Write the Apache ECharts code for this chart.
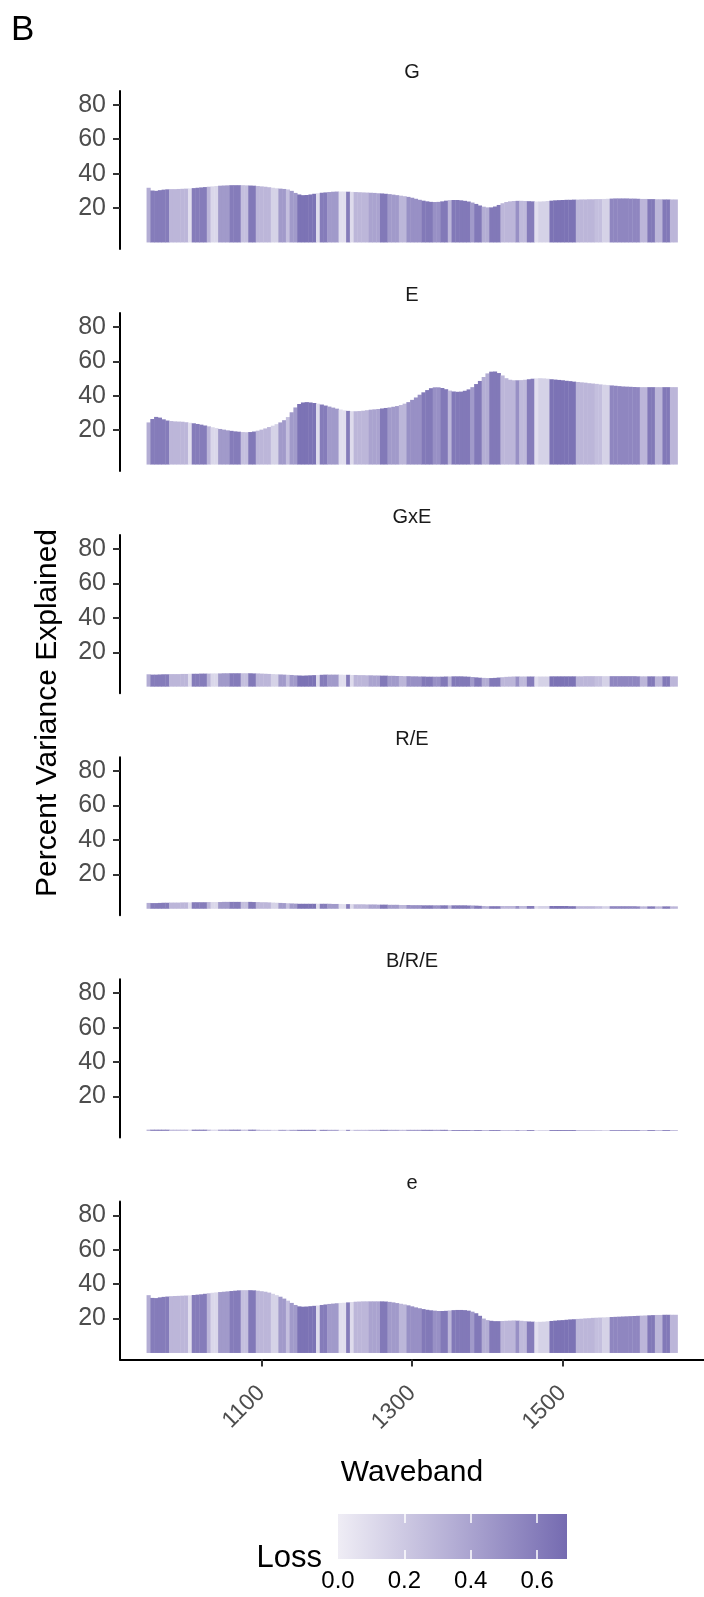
<!DOCTYPE html>
<html>
<head>
<meta charset="utf-8">
<script src="https://cdn.jsdelivr.net/npm/echarts@6/dist/echarts.min.js"></script>
<style>
  html, body { margin: 0; padding: 0; background: #fff; }
  #chart { width: 704px; height: 1597px; }
</style>
</head>
<body>
<div id="chart"></div>
<script>
// waveband grid, 5 nm steps
const waveband = []
for (let w = 950; w <= 1650; w += 5) waveband.push(w)

const facets = ['G', 'E', 'GxE', 'R/E', 'B/R/E', 'e']
const yTicks = [20, 40, 60, 80]
const xTicks = [1100, 1300, 1500]
const lossTicks = [0, 0.2, 0.4, 0.6]

// loss for each waveband (fill colour)
const loss = [
  0.35, 0.6, 0.6, 0.6, 0.6, 0.6, 0.3, 0.3, 0.3, 0.3,
  0.3, 0.08, 0.6, 0.6, 0.6, 0.6, 0.3, 0.12, 0.12, 0.45,
  0.45, 0.45, 0.6, 0.6, 0.6, 0.25, 0.25, 0.62, 0.62, 0.3,
  0.3, 0.3, 0.3, 0.15, 0.15, 0.45, 0.45, 0.25, 0.45, 0.45,
  0.65, 0.65, 0.65, 0.65, 0.65, 0.1, 0.6, 0.6, 0.45, 0.45,
  0.45, 0.08, 0.08, 0.6, 0.1, 0.3, 0.3, 0.3, 0.3, 0.4,
  0.4, 0.4, 0.62, 0.62, 0.45, 0.45, 0.45, 0.3, 0.3, 0.5,
  0.5, 0.5, 0.5, 0.62, 0.62, 0.62, 0.5, 0.5, 0.62, 0.62,
  0.3, 0.62, 0.62, 0.62, 0.62, 0.62, 0.45, 0.62, 0.62, 0.35,
  0.35, 0.62, 0.62, 0.62, 0.3, 0.3, 0.3, 0.3, 0.5, 0.28,
  0.28, 0.6, 0.6, 0.08, 0.15, 0.15, 0.15, 0.65, 0.65, 0.65,
  0.65, 0.65, 0.65, 0.65, 0.3, 0.3, 0.3, 0.3, 0.3, 0.25,
  0.25, 0.15, 0.15, 0.55, 0.55, 0.55, 0.55, 0.55, 0.55, 0.55,
  0.55, 0.3, 0.3, 0.62, 0.62, 0.3, 0.3, 0.62, 0.62, 0.3,
  0.3
]

// percent variance explained, per facet
const gVar = [
  31.8, 30.2, 30, 30.4, 30.7, 30.9, 31, 31, 31.1, 31.2,
  31.3, 31.4, 31.6, 31.8, 32, 32.2, 32.4, 32.6, 32.8, 33,
  33.1, 33.2, 33.3, 33.3, 33.3, 33.3, 33.2, 33.1, 33, 32.8,
  32.6, 32.4, 32.1, 31.8, 31.5, 31.3, 31.1, 30.8, 30, 28.8,
  27.9, 27.5, 27.6, 27.9, 28.3, 28.6, 28.9, 29.1, 29.3, 29.5,
  29.6, 29.6, 29.6, 29.5, 29.4, 29.3, 29.2, 29.1, 29, 28.9,
  28.8, 28.6, 28.5, 28.3, 28.1, 27.8, 27.5, 27.2, 26.9, 26.5,
  26, 25.4, 24.8, 24.3, 23.9, 23.6, 23.5, 23.6, 23.9, 24.3,
  24.6, 24.7, 24.7, 24.5, 24.2, 23.8, 23.2, 22.4, 21.5, 20.8,
  20.4, 20.4, 20.9, 21.8, 22.8, 23.5, 23.9, 24.1, 24.2, 24.2,
  24.1, 24, 23.9, 23.8, 23.8, 23.9, 24.1, 24.3, 24.5, 24.6,
  24.7, 24.8, 24.8, 24.9, 24.9, 25, 25, 25.1, 25.1, 25.2,
  25.2, 25.3, 25.4, 25.5, 25.6, 25.6, 25.6, 25.6, 25.5, 25.5,
  25.4, 25.3, 25.3, 25.2, 25.2, 25.1, 25.1, 25, 25, 25,
  25
]
const eVar = [
  24.5, 26.5, 27.7, 27.3, 26.3, 25.6, 25.3, 25.1, 25, 24.9,
  24.6, 24.3, 24, 23.6, 23.2, 22.7, 22.2, 21.7, 21.2, 20.7,
  20.3, 19.9, 19.6, 19.3, 19.1, 18.9, 18.8, 18.9, 19.2, 19.7,
  20.3, 21, 21.8, 22.6, 23.5, 24.5, 25.8, 27.6, 30.4, 33.2,
  35.2, 36.1, 36.3, 36.1, 35.8, 35.4, 34.9, 34.3, 33.7, 33.1,
  32.5, 32, 31.5, 31.2, 31, 31, 31.1, 31.3, 31.6, 31.9,
  32.1, 32.3, 32.6, 32.9, 33.2, 33.6, 34, 34.6, 35.4, 36.3,
  37.6, 39, 40.6, 42, 43.3, 44.4, 44.9, 44.9, 44.5, 43.8,
  43, 42.5, 42.3, 42.4, 42.9, 43.7, 45, 46.8, 48.6, 50.9,
  53, 54, 54.1, 53.2, 51.8, 50.2, 49.3, 49, 49, 49.1,
  49.3, 49.6, 49.9, 50.1, 50.2, 50.1, 49.9, 49.6, 49.4, 49.2,
  49, 48.7, 48.5, 48.2, 48, 47.8, 47.6, 47.3, 47.1, 46.9,
  46.6, 46.4, 46.2, 46, 45.8, 45.6, 45.4, 45.3, 45.2, 45.1,
  45, 45, 45, 45, 45, 45, 45, 45, 45, 45,
  45
]
const gxeVar = [
  7.2, 7, 7, 7.1, 7.2, 7.2, 7.3, 7.3, 7.3, 7.4,
  7.4, 7.5, 7.5, 7.5, 7.6, 7.6, 7.6, 7.7, 7.7, 7.7,
  7.8, 7.8, 7.8, 7.8, 7.8, 7.8, 7.8, 7.8, 7.7, 7.7,
  7.6, 7.5, 7.4, 7.3, 7.2, 7.1, 7, 6.9, 6.8, 6.6,
  6.5, 6.4, 6.5, 6.6, 6.7, 6.8, 6.9, 7, 7, 7,
  7, 7, 6.9, 6.9, 6.8, 6.8, 6.7, 6.7, 6.6, 6.6,
  6.5, 6.5, 6.4, 6.4, 6.3, 6.3, 6.2, 6.2, 6.1, 6.1,
  6, 6, 5.9, 5.9, 5.8, 5.8, 5.8, 5.8, 5.8, 5.9,
  5.9, 6, 6, 6, 5.9, 5.8, 5.6, 5.4, 5.2, 5.1,
  5, 5, 5.1, 5.3, 5.5, 5.7, 5.8, 5.9, 5.9, 5.9,
  5.9, 5.9, 5.9, 5.9, 5.9, 5.9, 5.9, 6, 6, 6,
  6, 6, 6, 6, 6, 6, 6.1, 6.1, 6.1, 6.1,
  6.1, 6.1, 6.1, 6.1, 6.1, 6.1, 6.1, 6.1, 6.1, 6.1,
  6, 6, 6, 6, 6, 6, 6, 6, 6, 6,
  6
]
const reVar = [
  3.4, 3.3, 3.3, 3.4, 3.5, 3.5, 3.6, 3.6, 3.6, 3.7,
  3.7, 3.7, 3.8, 3.8, 3.8, 3.8, 3.9, 3.9, 3.9, 3.9,
  4, 4, 4, 4, 4, 4, 4, 4, 3.9, 3.9,
  3.8, 3.8, 3.7, 3.6, 3.5, 3.4, 3.3, 3.2, 3.1, 3,
  2.9, 2.9, 2.9, 2.9, 2.9, 2.9, 2.9, 2.9, 2.9, 2.8,
  2.8, 2.8, 2.7, 2.7, 2.7, 2.6, 2.6, 2.6, 2.5, 2.5,
  2.5, 2.4, 2.4, 2.4, 2.3, 2.3, 2.3, 2.2, 2.2, 2.2,
  2.1, 2.1, 2.1, 2, 2, 2, 2, 2, 2, 2,
  2, 2, 2, 2, 2, 1.9, 1.9, 1.8, 1.7, 1.6,
  1.5, 1.5, 1.5, 1.5, 1.6, 1.6, 1.6, 1.6, 1.6, 1.6,
  1.6, 1.6, 1.6, 1.6, 1.6, 1.6, 1.6, 1.6, 1.6, 1.6,
  1.6, 1.6, 1.5, 1.5, 1.5, 1.5, 1.5, 1.5, 1.5, 1.5,
  1.5, 1.5, 1.5, 1.5, 1.5, 1.5, 1.5, 1.5, 1.5, 1.5,
  1.4, 1.4, 1.4, 1.4, 1.4, 1.4, 1.4, 1.4, 1.4, 1.4,
  1.4
]
const breVar = [
  0.7, 0.7, 0.7, 0.7, 0.7, 0.7, 0.7, 0.7, 0.7, 0.7,
  0.7, 0.7, 0.7, 0.7, 0.7, 0.7, 0.7, 0.7, 0.7, 0.7,
  0.7, 0.7, 0.7, 0.7, 0.7, 0.7, 0.7, 0.7, 0.7, 0.7,
  0.6, 0.6, 0.6, 0.6, 0.6, 0.6, 0.6, 0.6, 0.6, 0.6,
  0.6, 0.6, 0.6, 0.6, 0.6, 0.6, 0.6, 0.6, 0.6, 0.6,
  0.6, 0.6, 0.6, 0.6, 0.6, 0.6, 0.6, 0.6, 0.6, 0.6,
  0.6, 0.6, 0.6, 0.6, 0.6, 0.6, 0.6, 0.6, 0.6, 0.6,
  0.6, 0.6, 0.6, 0.6, 0.6, 0.6, 0.6, 0.6, 0.6, 0.6,
  0.5, 0.5, 0.5, 0.5, 0.5, 0.5, 0.5, 0.5, 0.5, 0.5,
  0.5, 0.5, 0.5, 0.5, 0.5, 0.5, 0.5, 0.5, 0.5, 0.5,
  0.5, 0.5, 0.5, 0.5, 0.5, 0.5, 0.5, 0.5, 0.5, 0.5,
  0.5, 0.5, 0.5, 0.5, 0.5, 0.5, 0.5, 0.5, 0.5, 0.5,
  0.5, 0.5, 0.5, 0.5, 0.5, 0.5, 0.5, 0.5, 0.5, 0.5,
  0.5, 0.5, 0.5, 0.5, 0.5, 0.5, 0.5, 0.5, 0.5, 0.5,
  0.5
]
const resVar = [
  33.6, 32, 31.9, 32.3, 32.6, 32.8, 33, 33.1, 33.2, 33.3,
  33.4, 33.5, 33.7, 33.9, 34.1, 34.4, 34.7, 35, 35.2, 35.4,
  35.6, 35.8, 36, 36.2, 36.4, 36.5, 36.5, 36.5, 36.4, 36.2,
  35.9, 35.6, 35.1, 34.4, 33.6, 32.7, 31.6, 30.4, 29.1, 27.9,
  27.1, 26.9, 27, 27.2, 27.4, 27.6, 27.9, 28.2, 28.5, 28.7,
  28.9, 29.1, 29.2, 29.4, 29.6, 29.8, 29.9, 30, 30, 30,
  30, 30, 30, 29.9, 29.7, 29.4, 29, 28.6, 28.2, 27.7,
  27.1, 26.5, 26, 25.5, 25.1, 24.8, 24.6, 24.4, 24.4, 24.5,
  24.7, 24.9, 25, 25, 24.9, 24.6, 24, 23.1, 21.6, 20,
  19.1, 18.7, 18.5, 18.5, 18.6, 18.7, 18.8, 18.9, 18.8, 18.7,
  18.5, 18.3, 18.2, 18.1, 18.1, 18.2, 18.4, 18.6, 18.8, 19,
  19.1, 19.3, 19.5, 19.6, 19.8, 19.9, 20.1, 20.2, 20.4, 20.5,
  20.6, 20.7, 20.8, 20.9, 21, 21.1, 21.2, 21.3, 21.4, 21.5,
  21.6, 21.7, 21.8, 21.9, 22, 22.1, 22.1, 22.2, 22.2, 22.2,
  22.2
]
const facetValues = [gVar, eVar, gxeVar, reVar, breVar, resVar]

const lossMax = 0.69
const lossColors = ['#efedf5', '#b4aed5', '#756bb1']
const step = 5
const font = 'Liberation Sans, Arial, sans-serif'

const panelTop = 90.9
const panelGap = 222.1
const panelHeight = 158.1

const chart = echarts.init(document.getElementById('chart'))

function renderBar (params, api) {
  const x = api.value(0)
  const a = api.coord([x - step / 2, 0])
  const b = api.coord([x + step / 2, api.value(1)])
  return {
    type: 'rect',
    shape: { x: a[0], y: b[1], width: b[0] - a[0] + 0.4, height: a[1] - b[1] },
    style: { fill: api.visual('color') }
  }
}

function renderColorbar (params, api) {
  const a = api.coord([api.value(0), 0])
  const b = api.coord([api.value(1), 1])
  return {
    type: 'rect',
    shape: { x: a[0], y: b[1], width: b[0] - a[0], height: a[1] - b[1] },
    style: {
      fill: new echarts.graphic.LinearGradient(0, 0, 1, 0, [
        { offset: 0, color: lossColors[0] },
        { offset: 0.5, color: lossColors[1] },
        { offset: 1, color: lossColors[2] }
      ])
    }
  }
}

const grid = []
const xAxis = []
const yAxis = []
const series = []
const graphic = []

facets.forEach((name, i) => {
  const top = panelTop + i * panelGap
  const last = i === facets.length - 1
  grid.push({ left: 120, right: 0, top: top, height: panelHeight })
  xAxis.push({
    gridIndex: i,
    type: 'value',
    min: 912.25,
    max: 1687.75,
    show: last,
    name: last ? 'Waveband' : '',
    nameLocation: 'middle',
    nameGap: 98,
    nameTextStyle: { fontSize: 30, color: '#000', fontFamily: font },
    axisLine: { show: true, onZero: false, lineStyle: { color: '#000', width: 2 } },
    axisTick: { show: true, customValues: xTicks, length: 7, lineStyle: { color: '#333', width: 2 } },
    axisLabel: { customValues: xTicks, rotate: 45, color: '#4d4d4d', fontSize: 23, margin: 30, fontFamily: font, formatter: v => String(v) },
    splitLine: { show: false }
  })
  yAxis.push({
    gridIndex: i,
    type: 'value',
    min: -3.8,
    max: 88.1,
    axisLine: { show: true, onZero: false, lineStyle: { color: '#000', width: 2 } },
    axisTick: { show: true, customValues: yTicks, length: 7, lineStyle: { color: '#333', width: 2 } },
    axisLabel: { customValues: yTicks, color: '#4d4d4d', fontSize: 25, margin: 14, fontFamily: font },
    splitLine: { show: false }
  })
  series.push({
    type: 'custom',
    name: name,
    xAxisIndex: i,
    yAxisIndex: i,
    silent: true,
    encode: { x: 0, y: 1 },
    data: waveband.map((w, j) => [w, facetValues[i][j], loss[j]]),
    renderItem: renderBar
  })
  graphic.push({
    type: 'text',
    x: 412,
    y: top - 18,
    style: { text: name, fontSize: 20, fill: '#1a1a1a', align: 'center', verticalAlign: 'middle', fontFamily: font }
  })
})

// colour bar legend
grid.push({ left: 338, width: 229, top: 1514, height: 45 })
xAxis.push({
  gridIndex: 6,
  type: 'value',
  min: 0,
  max: lossMax,
  z: 10,
  axisLine: { show: false },
  axisTick: { show: true, inside: true, customValues: [0.2, 0.4, 0.6], length: 9, lineStyle: { color: '#fff', width: 1.5 } },
  axisLabel: { customValues: lossTicks, color: '#000', fontSize: 24, margin: 10, fontFamily: font, formatter: v => v.toFixed(1) },
  splitLine: { show: false }
})
xAxis.push({
  gridIndex: 6,
  type: 'value',
  position: 'top',
  min: 0,
  max: lossMax,
  z: 10,
  axisLine: { show: false },
  axisTick: { show: true, inside: true, customValues: [0.2, 0.4, 0.6], length: 9, lineStyle: { color: '#fff', width: 1.5 } },
  axisLabel: { show: false },
  splitLine: { show: false }
})
yAxis.push({ gridIndex: 6, type: 'value', min: 0, max: 1, show: false })
series.push({
  type: 'custom',
  xAxisIndex: 6,
  yAxisIndex: 6,
  silent: true,
  data: [[0, lossMax]],
  renderItem: renderColorbar
})

graphic.push(
  { type: 'text', x: 11, y: 30, style: { text: 'B', fontSize: 35, fill: '#000', verticalAlign: 'middle', fontFamily: font } },
  {
    type: 'text',
    x: 48,
    y: 713,
    rotation: Math.PI / 2,
    style: { text: 'Percent Variance Explained', fontSize: 30, fill: '#000', align: 'center', verticalAlign: 'middle', fontFamily: font }
  },
  { type: 'text', x: 322, y: 1558, style: { text: 'Loss', fontSize: 31, fill: '#000', align: 'right', verticalAlign: 'middle', fontFamily: font } }
)

chart.setOption({
  animation: false,
  backgroundColor: '#fff',
  textStyle: { fontFamily: font },
  grid: grid,
  xAxis: xAxis,
  yAxis: yAxis,
  visualMap: {
    type: 'continuous',
    show: false,
    min: 0,
    max: lossMax,
    dimension: 2,
    seriesIndex: [0, 1, 2, 3, 4, 5],
    inRange: { color: lossColors }
  },
  graphic: graphic,
  series: series
})
</script>
</body>
</html>
